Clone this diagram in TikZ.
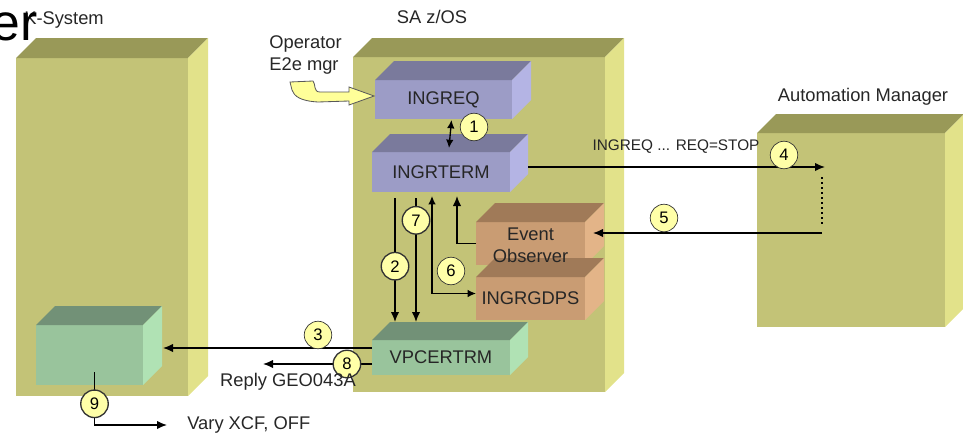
\documentclass[tikz,border=0pt]{standalone}
\usepackage{fontspec}
\setmainfont{Liberation Sans}
\usepackage{tikz}
\usetikzlibrary{arrows.meta,positioning,calc,fit}
\definecolor{sysfront}{HTML}{C3C377}
\definecolor{systop}{HTML}{999958}
\definecolor{sysside}{HTML}{E2E28A}
\definecolor{reqfront}{HTML}{9C9CC6}
\definecolor{reqtop}{HTML}{7A7A9C}
\definecolor{reqside}{HTML}{B4B4E4}
\definecolor{obsfront}{HTML}{C99C73}
\definecolor{obstop}{HTML}{A07A58}
\definecolor{obsside}{HTML}{E3B488}
\definecolor{vpcfront}{HTML}{99C49C}
\definecolor{vpctop}{HTML}{729177}
\definecolor{vpcside}{HTML}{B0E2B4}
\definecolor{stepyellow}{HTML}{FFFFA8}
\definecolor{opyellow}{HTML}{FFFF99}
\tikzset{
    sys box/.style={fill=sysfront, inner sep=0pt, outer sep=0pt},
    comp box/.style={inner sep=0pt, outer sep=0pt},
    comp text/.style={
        inner sep=0pt,
        align=center,
        font=\fontsize{11}{13}\selectfont,
        text=black!85
    },
    sys title/.style={font=\fontsize{11}{13}\selectfont, text=black!85},
    sys label/.style={font=\fontsize{11}{13.2}\selectfont, text=black!85, inner sep=0pt},
    msg label/.style={font=\fontsize{9.2}{11}\selectfont, text=black!85},
    step num/.style={
        circle,
        draw=black!80,
        fill=stepyellow,
        inner sep=0pt,
        minimum size=16.5pt,
        font=\fontsize{10}{12}\selectfont
    },
    flow arrow/.style={-{Latex[length=6pt,width=5pt]}, line width=0.8pt, draw=black},
    both arrow/.style={{Latex[length=5pt,width=4.5pt]}-{Latex[length=5pt,width=4.5pt]}, line width=0.8pt, draw=black}
}
% top and side faces of a box, from its front node
\newcommand{\boxfaces}[4]{%
    \fill[#3] (#1.north west) -- ($(#1.north west)+(#2,-#2)$) -- ($(#1.north east)+(#2,-#2)$) -- (#1.north east) -- cycle;
    \fill[#4] (#1.north east) -- ($(#1.north east)+(#2,-#2)$) -- ($(#1.south east)+(#2,-#2)$) -- (#1.south east) -- cycle;
}
\begin{document}
\begin{tikzpicture}[x=0.6pt, y=-0.6pt]
\useasboundingbox (0,0) rectangle (963,435);

% systems
\node[sys box, fit={(16,58) (188,396)}] (ksys) {};
\boxfaces{ksys}{20}{systop}{sysside}
\node[sys box, fit={(353,57) (605,392)}] (saos) {};
\boxfaces{saos}{19}{systop}{sysside}
\node[sys box, fit={(757,133) (945,327)}] (am) {};
\boxfaces{am}{19}{systop}{sysside}
\node[sys title] (ksystitle) at (64,20) {K-System};
\node[sys title] (saostitle) at (432,17) {SA z/OS};
\node[sys title] (amtitle) at (863,97) {Automation Manager};
\node[font=\fontsize{31}{31}\selectfont, anchor=base east, inner sep=0pt] (titlefrag) at (38,40) {er};

% components
\node[comp box, fill=reqfront, fit={(375,80) (512,119)}] (ingreq) {};
\boxfaces{ingreq}{19}{reqtop}{reqside}
\node[comp box, fill=reqfront, fit={(372,152) (510,192)}] (ingrterm) {};
\boxfaces{ingrterm}{18}{reqtop}{reqside}
\node[comp box, fill=obsfront, fit={(476,222) (585,265)}] (eo) {};
\boxfaces{eo}{19}{obstop}{obsside}
\node[comp box, fill=obsfront, fit={(476,277) (585,320)}] (gdps) {};
\boxfaces{gdps}{19}{obstop}{obsside}
\node[comp box, fill=vpcfront, fit={(372,340) (510,375)}] (vpc) {};
\boxfaces{vpc}{18}{vpctop}{vpcside}
\node[comp box, fill=vpcfront, fit={(36,325) (143,385)}] (xcf) {};
\boxfaces{xcf}{19}{vpctop}{vpcside}
\node[comp text] (ingreqtxt) at (ingreq) {INGREQ};
\node[comp text] (ingrtermtxt) at (ingrterm) {INGRTERM};
\node[comp text] (eotxt) at ($(eo)+(0,1.5)$) {Event\\Observer};
\node[comp text] (gdpstxt) at (gdps) {INGRGDPS};
\node[comp text] (vpctxt) at (vpc) {VPCERTRM};

% operator input
\node[sys label, anchor=west, align=left] (oper) at (269,55) {Operator\\E2e mgr};
\begin{scope}[shift={($(ingreq.west)+(-1,-3.5)$)}]
\filldraw[fill=opyellow, draw=black!65, line width=0.5pt]
    (-84,-14) -- (-61,-15) .. controls (-58,-12) and (-61,-4) .. (-54,-4) -- (-25,-4) -- (-25,-9)
    -- (0,0) -- (-25,9) -- (-25,5) -- (-56,6) .. controls (-74,5) and (-80,0) .. (-82,-6) -- cycle;
\end{scope}

% flows
\coordinate (am4) at (825,167);
\coordinate (am5) at (822,233);
\coordinate (reply) at (263,364);
\coordinate (vary) at (167,425);
\draw[both arrow] ($(ingreq.south)+(8,1)$) -- ($(ingrterm.north)+(8,-4)$);
\node[step num] (s1) at (474,127) {1};
\draw[flow arrow] ($(ingrterm.east)+(18,-5)$) -- (am4);
\node[msg label] (reqstop) at (676,147) {INGREQ ... REQ=STOP};
\node[step num] (s4) at (784,155) {4};
\draw[line width=1pt, dotted] ($(am4)+(-3,10)$) -- ($(am5)+(0,-8)$);
\draw[flow arrow] (am5) -- ($(eo.east |- am5)+(8,0)$);
\node[step num] (s5) at (664,218) {5};
\draw[flow arrow] (eo.west) -| ($(ingrterm.south west)+(85,4)$);
\draw[both arrow] ($(ingrterm.south west)+(60,4)$) |- ($(gdps.west)+(0,-5)$);
\node[step num] (s6) at (451,271) {6};
\draw[flow arrow] ($(ingrterm.south west)+(23,6)$) -- ($(vpc.north west)+(23,-18)$) node[step num, pos=0.55] (s2) {2};
\draw[flow arrow] ($(ingrterm.south west)+(44,6)$) -- ($(vpc.north west)+(44,-18)$) node[step num, pos=0.18] (s7) {7};
\draw[flow arrow] ($(vpc.west)+(0,-9.5)$) -- ($(xcf.east)+(20,-7)$);
\node[step num] (s3) at (318,335) {3};
\draw[flow arrow] ($(vpc.west)+(0,6.5)$) -- (reply) node[step num, pos=0.23] (s8) {8};
\node[sys label] (replytxt) at (288,382) {Reply GEO043A};
\draw[flow arrow] ($(xcf.south)+(5,-13)$) |- (vary) node[step num, pos=0.3] (s9) {9};
\node[sys label, anchor=west] (varytxt) at (187,425) {Vary XCF, OFF};
\end{tikzpicture}
\end{document}
